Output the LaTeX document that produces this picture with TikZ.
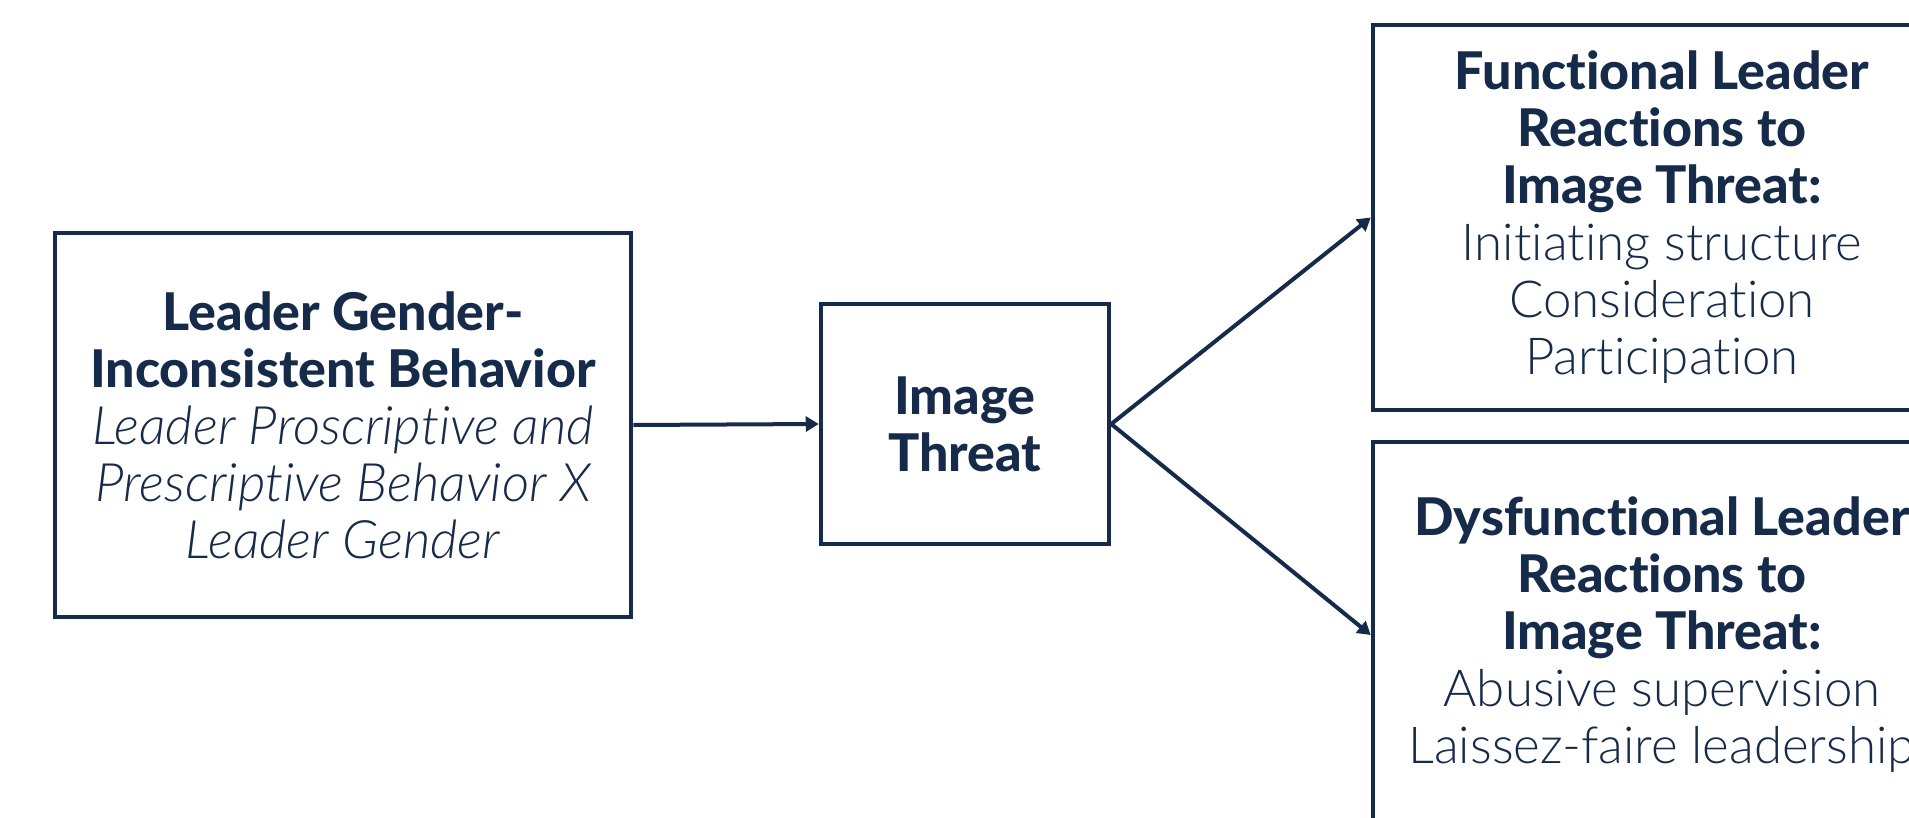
\documentclass[tikz,border=0pt]{standalone}
\usepackage{fontspec}
\IfFontExistsTF{Lato Heavy}
  {\setmainfont{Lato}[Ligatures=NoCommon, BoldFont={Lato Heavy}]}
  {\setmainfont{Lato}[Ligatures=NoCommon]}
\IfFontExistsTF{Lato Light}
  {\newfontfamily\plainfont{Lato Light}[Ligatures=NoCommon]}
  {\newfontfamily\plainfont{Lato}[Ligatures=NoCommon]}
\usetikzlibrary{arrows.meta}
\definecolor{navy}{RGB}{22,43,74}
\tikzset{
  box/.style={draw=navy, line width=2.25pt, text=navy, align=center,
    inner sep=0pt, font=\fontsize{26}{28.5}\selectfont},
  body/.style={font=\plainfont\fontsize{25.5}{28.5}\selectfont},
  link/.style={draw=navy, line width=2pt, -{Triangle[length=6.5pt,width=7.5pt]}}
}
\newcommand{\lt}[1]{{\plainfont\fontsize{25.5}{28.5}\selectfont #1}}
\newcommand{\lit}[1]{{\plainfont\itshape\fontsize{26.5}{28.5}\selectfont #1}}
\begin{document}
\begin{tikzpicture}[x=0.5pt,y=-0.5pt]
\useasboundingbox (0,0) rectangle (1909,818);
\clip (0,0) rectangle (1909,818);
\fill[white] (0,0) rectangle (1909,818);

\node[box, minimum width=288pt, minimum height=192pt] (src) at (343,425)
  {\textbf{Leader Gender-}\\ \textbf{Inconsistent Behavior}\\
   \lit{Leader Proscriptive and}\\ \lit{Prescriptive Behavior X}\\
   \lit{Leader Gender}};

\node[box, minimum width=144pt, minimum height=120pt] (threat) at (965,424)
  {\textbf{Image}\\ \textbf{Threat}};

\node[box, minimum width=289pt, minimum height=192.5pt] (func) at (1662,217.5)
  {\textbf{Functional Leader}\\ \textbf{Reactions to}\\ \textbf{Image Threat:}\\
   \lt{Initiating structure}\\ \lt{Consideration}\\ \lt{Participation}};

\node[box, minimum width=289pt, minimum height=193pt] (dysf) at (1662,635)
  {\textbf{Dysfunctional Leader}\\ \textbf{Reactions to}\\ \textbf{Image Threat:}\\
   \lt{Abusive supervision}\\ \lt{Laissez-faire leadership}};

\draw[link] (src.east) -- (threat.west);
\draw[link] (threat.east) -- (func.west);
\draw[link] (threat.east) -- (dysf.west);
\end{tikzpicture}
\end{document}
